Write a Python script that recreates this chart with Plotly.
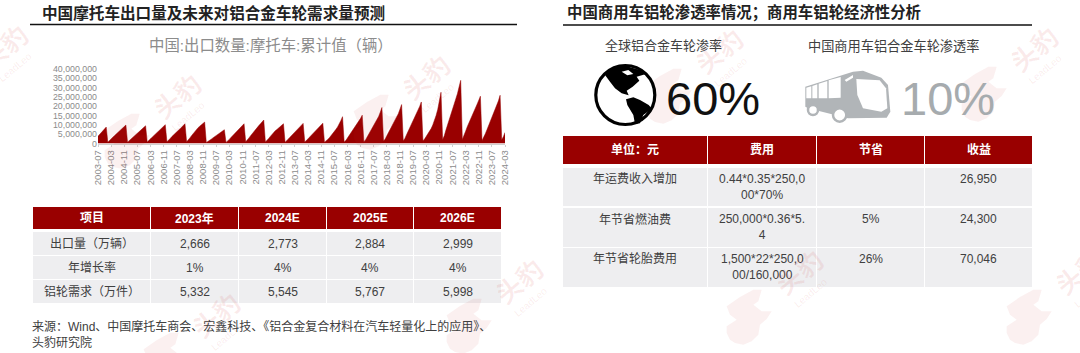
import plotly.graph_objects as go

W, H = 1080, 353
CJK = "Liberation Sans, Noto Sans CJK SC, sans-serif"
RED = "#990000"
CELL = "#EEEEF0"
GRAY = "#8C8C8C"
INK = "#404040"

start_year, start_month = 2003, 7
export_2003 = [3.9, 4.9, 5.8, 6.7, 7.8, 8.8]
export_2004 = [0.7, 1.4, 2.4, 3.3, 4.2, 5.0, 5.8, 6.5, 7.2, 8.0, 8.9, 9.9]
export_2005 = [0.7, 1.5, 2.4, 3.2, 4.0, 4.7, 5.4, 6.1, 6.9, 7.7, 8.6, 9.5]
export_2006 = [0.8, 1.5, 2.5, 3.4, 4.3, 5.2, 6.0, 6.8, 7.6, 8.4, 9.2, 10.1]
export_2007 = [0.9, 1.6, 2.7, 3.7, 4.7, 5.5, 6.3, 7.1, 7.9, 8.8, 9.7, 10.6]
export_2008 = [0.9, 1.7, 3.0, 4.2, 5.4, 6.5, 7.6, 8.5, 9.3, 10.1, 10.8, 11.5]
export_2009 = [0.5, 1.0, 1.6, 2.3, 3.0, 3.6, 4.2, 4.8, 5.4, 6.0, 6.7, 7.4]
export_2010 = [0.6, 1.2, 2.2, 3.2, 4.2, 5.1, 6.0, 6.9, 7.7, 8.6, 9.6, 10.6]
export_2011 = [0.9, 1.7, 3.0, 4.2, 5.4, 6.6, 7.6, 8.6, 9.6, 10.6, 11.6, 12.6]
export_2012 = [0.8, 1.6, 2.7, 3.8, 4.9, 5.9, 6.8, 7.5, 8.2, 9.0, 9.8, 10.6]
export_2013 = [0.7, 1.4, 2.4, 3.4, 4.4, 5.4, 6.2, 7.0, 7.9, 8.8, 9.8, 10.8]
export_2014 = [0.8, 1.5, 2.5, 3.5, 4.5, 5.4, 6.2, 7.0, 7.9, 8.9, 9.9, 10.9]
export_2015 = [0.7, 1.3, 2.2, 3.1, 4.1, 5.2, 6.3, 7.6, 8.9, 10.4, 12.3, 14.4]
export_2016 = [0.8, 1.6, 2.9, 4.2, 5.5, 6.7, 7.9, 9.1, 10.4, 11.9, 13.5, 15.2]
export_2017 = [1.0, 1.9, 3.4, 4.9, 6.5, 8.0, 9.5, 11.0, 12.6, 14.5, 16.8, 19.3]
export_2018 = [1.3, 2.4, 4.2, 5.9, 7.6, 9.2, 10.7, 12.3, 14.0, 16.0, 18.4, 20.9]
export_2019 = [1.5, 2.7, 4.7, 6.6, 8.5, 10.3, 12.0, 13.7, 15.6, 17.7, 19.9, 22.3]
export_2020 = [1.5, 2.4, 3.7, 4.9, 6.3, 8.0, 10.0, 12.3, 15.0, 18.2, 22.6, 27.5]
export_2021 = [2.2, 4.1, 7.2, 10.2, 13.2, 16.0, 18.7, 21.3, 23.9, 26.7, 30.2, 33.9]
export_2022 = [2.2, 4.0, 6.6, 9.0, 11.2, 13.4, 15.5, 17.4, 19.2, 21.1, 23.2, 25.4]
export_2023 = [1.6, 3.1, 5.2, 7.4, 9.6, 11.8, 14.0, 16.0, 18.0, 20.2, 22.9, 25.9]
export_2024 = [2.0, 3.6, 5.9]

yearly = [export_2003, export_2004, export_2005, export_2006, export_2007, export_2008,
          export_2009, export_2010, export_2011, export_2012, export_2013, export_2014,
          export_2015, export_2016, export_2017, export_2018, export_2019, export_2020,
          export_2021, export_2022, export_2023, export_2024]
months, units = [], []
y_cur, m_cur = start_year, start_month
for block in yearly:
    for v in block:
        months.append(f"{y_cur}-{m_cur:02d}")
        units.append(v * 1e6)
        m_cur += 1
        if m_cur == 13:
            y_cur, m_cur = y_cur + 1, 1
x_ticks = months[::8]

t1_head = ["项目", "2023年", "2024E", "2025E", "2026E"]
t1_row1 = ["出口量（万辆）", "2,666", "2,773", "2,884", "2,999"]
t1_row2 = ["年增长率", "1%", "4%", "4%", "4%"]
t1_row3 = ["铝轮需求（万件）", "5,332", "5,545", "5,767", "5,998"]

t2_head = ["单位：元", "费用", "节省", "收益"]
t2_row1 = ["年运费收入增加", "0.44*0.35*250,0<br>00*70%", "", "26,950"]
t2_row2 = ["年节省燃油费", "250,000*0.36*5.<br>4", "5%", "24,300"]
t2_row3 = ["年节省轮胎费用", "1,500*22*250,0<br>00/160,000", "26%", "70,046"]


def px(x):
    return x / W


def py(y):
    return 1 - y / H


def path(cmds):
    out = []
    for c in cmds:
        out.append(c[0] + " " + " ".join(
            f"{px(c[i]):.5f} {py(c[i+1]):.5f}" for i in range(1, len(c) - 1, 2)))
    return " ".join(out) + " Z"


def poly(pts):
    return path([("M", *pts[0])] + [("L", *p) for p in pts[1:]])


fig = go.Figure()
fig.add_trace(go.Scatter(
    x=months, y=units, mode="lines", fill="tozeroy", fillcolor=RED,
    line=dict(color=RED, width=0.5), hoverinfo="skip", showlegend=False))

shapes, anns = [], []


def rect(x0, y0, x1, y1, fill):
    shapes.append(dict(type="rect", xref="paper", yref="paper", x0=px(x0), x1=px(x1), y0=py(y1), y1=py(y0),
                       fillcolor=fill, line=dict(width=0), layer="below"))


def text(x, y, s, size, color=INK, anchor="center", family=CJK, align="center", **kw):
    anns.append(dict(xref="paper", yref="paper", x=px(x), y=py(y), text=s, showarrow=False,
                     xanchor=anchor, yanchor="middle", font=dict(size=size, color=color, family=family),
                     align=align, **kw))


def table(cols, head, head_box, rows, row_boxes, size=12):
    for i in range(len(cols) - 1):
        x0, x1 = cols[i], cols[i + 1] - 1
        rect(x0, head_box[0], x1, head_box[1], RED)
        text((x0 + x1) / 2, (head_box[0] + head_box[1]) / 2, f"<b>{head[i]}</b>", size, "white")
        for row, (y0, y1) in zip(rows, row_boxes):
            rect(x0, y0, x1, y1, CELL)
            s = row[i]
            if s:
                lines = s.count("<br>") + 1
                # tall cells are top aligned
                cy = y0 + 11 + (lines - 1) * 8.2 if (y1 - y0) > 30 else (y0 + y1) / 2
                text((x0 + x1) / 2, cy, s, size, INK)


# watermarks (head position of each logo group)
MARK = "rgba(205,40,40,0.09)"
LOGO = "rgba(205,40,40,0.07)"
marks = [(5, 48), (178, 97), (427, 78), (720, 52), (1035, 50), (217, 316), (520, 282), (800, 273), (1080, 273)]
head_outline = [(560, 200), (600, 172), (640, 150), (665, 150), (655, 185), (640, 195), (665, 215), (695, 215),
                (680, 238), (660, 255), (655, 285), (635, 305), (610, 315), (585, 310), (570, 300), (560, 280),
                (560, 260), (590, 240), (570, 225)]
for x, y in marks:
    shapes.append(dict(type="path", xref="paper", yref="paper", fillcolor=LOGO, line=dict(width=0),
                       path=poly([(x + (a - 780) / 3, y + (b - 100) / 3) for a, b in head_outline])))

LEFT_T = [33, 151, 239, 327, 414, 502]
RIGHT_T = [563, 708, 817, 925, 1033]
table(LEFT_T, t1_head, (207, 229), [t1_row1, t1_row2, t1_row3], [(232, 255), (256, 279), (280, 303)])
table(RIGHT_T, t2_head, (136, 164), [t2_row1, t2_row2, t2_row3], [(168, 206), (208, 247), (248, 287)])

for x, y in marks:
    text(x, y, "<b>头豹</b>", 26, MARK, textangle=-40)
    text(x + 10, y + 20, "LeadLeo", 10, MARK, textangle=-40)

shapes.append(dict(type="line", xref="paper", yref="paper", x0=px(30), x1=px(517), y0=py(24.5), y1=py(24.5),
                   line=dict(color="#111111", width=1.6)))
shapes.append(dict(type="line", xref="paper", yref="paper", x0=px(563), x1=px(1032), y0=py(25), y1=py(25),
                   line=dict(color="#111111", width=1.4)))

# globe
shapes.append(dict(type="circle", xref="paper", yref="paper", x0=px(595.8), x1=px(654.8), y0=py(124.5), y1=py(65.5),
                   line=dict(color="black", width=3.2), fillcolor="white"))


def gz(z):
    return [(590 + a / 3, 60 + b / 3) for a, b in z]


for pts in [
    [(45, 45), (70, 22), (105, 17), (150, 30), (168, 42), (140, 50), (148, 62), (128, 80), (110, 92), (116, 106),
     (95, 100), (75, 85), (60, 65)],
    [(108, 118), (130, 112), (150, 120), (176, 135), (186, 146), (160, 165), (150, 190), (135, 192), (130, 165),
     (112, 135)],
]:
    shapes.append(dict(type="path", xref="paper", yref="paper", path=poly(gz(pts)), fillcolor="black",
                       line=dict(width=0)))
shapes.append(dict(type="path", xref="paper", yref="paper", fillcolor="white", line=dict(width=0),
                   path=poly(gz([(95, 35), (115, 30), (130, 42), (112, 46)]))))

# bus
BUS = "#B1B5B8"


def bz(z):
    return [(798 + a / 3, 65 + b / 3) for a, b in z]


def bus_poly(z, fill):
    shapes.append(dict(type="path", xref="paper", yref="paper", path=poly(bz(z)), fillcolor=fill,
                       line=dict(width=0)))


bus_poly([(22, 65), (165, 20), (195, 17), (250, 38), (270, 60), (277, 140), (266, 158), (150, 160), (30, 130), (22, 125)],
         BUS)
for win in [[(25, 68), (40, 64), (40, 100), (25, 100)], [(43, 63), (58, 58), (58, 100), (43, 100)],
            [(62, 56), (88, 48), (88, 100), (62, 100)], [(92, 46), (128, 36), (128, 98), (92, 100)],
            [(175, 42), (245, 46), (264, 70), (268, 130), (250, 140), (195, 130), (178, 90)]]:
    bus_poly(win, "white")
bus_poly([(140, 45), (165, 30), (165, 38), (145, 50)], "white")
for cx, cy, r in [(45, 135, 15), (125, 150, 20)]:
    xc, yc = bz([(cx, cy)])[0]
    rr = r / 3
    shapes.append(dict(type="circle", xref="paper", yref="paper", x0=px(xc - rr), x1=px(xc + rr),
                       y0=py(yc + rr), y1=py(yc - rr), fillcolor="white", line=dict(color=BUS, width=2.5)))

text(40, 13, "<b>中国摩托车出口量及未来对铝合金车轮需求量预测</b>", 15.6, "#222222", "left")
text(565, 13, "<b>中国商用车铝轮渗透率情况；商用车铝轮经济性分析</b>", 15.4, "#222222", "left")
text(271, 45, "中国:出口数量:摩托车:累计值（辆）", 15.4, GRAY)
text(663, 46, "全球铝合金车轮渗率", 13, INK)
text(893, 46, "中国商用车铝合金车轮渗透率", 13.2, INK)
text(713, 99, "60%", 47, "#111111")
text(948, 99, "10%", 47, "#A6ABAE")
text(30, 334.5, "来源：Wind、中国摩托车商会、宏鑫科技、《铝合金复合材料在汽车轻量化上的应用》、<br>头豹研究院",
     12, INK, "left", align="left")

fig.update_layout(
    width=W, height=H, margin=dict(l=0, r=0, t=0, b=0, autoexpand=False), autosize=False,
    paper_bgcolor="white", plot_bgcolor="rgba(0,0,0,0)", showlegend=False,
    shapes=shapes, annotations=anns,
    xaxis=dict(domain=[px(98), px(505)], type="category", categoryorder="array", categoryarray=months,
               range=[0, len(months) - 1], tickmode="array", tickvals=x_ticks, ticktext=x_ticks,
               tickangle=-90, tickfont=dict(size=9.5, color=GRAY, family=CJK), ticks="outside",
               ticklen=2, tickcolor="#D0D0D0", showgrid=False, showline=True, linecolor="#D0D0D0", linewidth=1),
    yaxis=dict(domain=[py(143.5), py(69)], range=[0, 40e6], tickvals=[i * 5e6 for i in range(9)],
               tickformat=",d", tickfont=dict(size=8.8, color=GRAY, family=CJK), showgrid=False,
               zeroline=False, showline=False, ticklen=0),
)
fig.write_html("out.html", config=dict(displayModeBar=False),
               post_script="document.body.style.margin='0';document.documentElement.style.overflow='hidden';")
